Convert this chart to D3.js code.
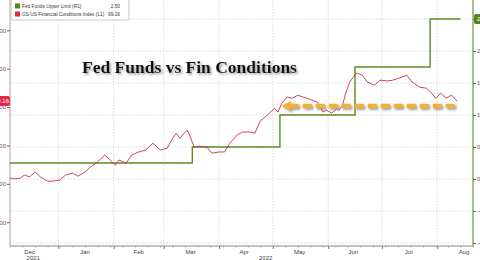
<!DOCTYPE html>
<html>
<head>
<meta charset="utf-8">
<script src="https://cdn.jsdelivr.net/npm/d3@7"></script>
<style>
body { margin: 0; background: #fff; }
svg { display: block; font-family: "Liberation Sans", Arial, sans-serif; }
</style>
</head>
<body>
<div id="chart"></div>
<script>
// GS US Financial Conditions Index (left axis)
var fciDates = ["2021-12-05","2021-12-08","2021-12-11","2021-12-13","2021-12-16","2021-12-19","2021-12-22","2021-12-26","2021-12-29",
  "2022-01-02","2022-01-05","2022-01-09","2022-01-12","2022-01-16","2022-01-19","2022-01-23","2022-01-27","2022-01-30",
  "2022-02-02","2022-02-04","2022-02-08","2022-02-11","2022-02-15","2022-02-19","2022-02-23","2022-02-27",
  "2022-03-03","2022-03-06","2022-03-08","2022-03-10","2022-03-14","2022-03-15","2022-03-18","2022-03-21","2022-03-25","2022-03-28",
  "2022-04-01","2022-04-04","2022-04-07","2022-04-11","2022-04-14","2022-04-18","2022-04-21","2022-04-24","2022-04-26","2022-04-29",
  "2022-05-02","2022-05-04","2022-05-06","2022-05-09","2022-05-12","2022-05-15","2022-05-18","2022-05-20","2022-05-23","2022-05-26","2022-05-29","2022-05-31",
  "2022-06-03","2022-06-06","2022-06-07","2022-06-09","2022-06-11","2022-06-13","2022-06-15","2022-06-17","2022-06-20","2022-06-23","2022-06-27","2022-06-30",
  "2022-07-04","2022-07-07","2022-07-11","2022-07-15","2022-07-18","2022-07-22","2022-07-26","2022-07-29","2022-07-31",
  "2022-08-03","2022-08-06","2022-08-09","2022-08-12"]
var fciValues = [97.15,97.13,97.15,97.23,97.18,97.31,97.18,97.07,97.07,
  97.10,97.23,97.28,97.20,97.31,97.44,97.57,97.75,97.62,
  97.49,97.62,97.54,97.75,97.83,97.88,98.06,97.88,
  97.93,98.19,98.32,98.19,98.40,98.32,97.96,97.98,97.96,97.80,
  97.83,97.83,98.06,98.27,98.35,98.35,98.32,98.64,98.71,98.84,
  98.97,98.87,99.10,99.26,99.23,99.31,99.26,99.23,99.18,99.13,98.87,98.92,
  98.84,98.97,98.92,99.05,99.39,99.65,99.78,99.89,99.83,99.65,99.57,99.70,
  99.68,99.70,99.76,99.83,99.65,99.52,99.49,99.36,99.23,
  99.36,99.23,99.31,99.16]

// Fed Funds upper limit (right axis)
var fedDates = ["2021-12-05","2022-03-17","2022-05-05","2022-06-16","2022-07-28","2022-08-14"]
var fedValues = [0.25, 0.50, 1.00, 1.75, 2.50, 2.50]

// annotation arrow (left axis level)
var arrowDates = ["2022-05-06","2022-08-12"]
var arrowValue = 99.03

var leftTicks = [96, 97, 98, 99, 100, 101]
var rightTicks = [-1, -0.5, 0, 0.5, 1, 1.5, 2, 2.5]
var monthNames = ["Dec","Jan","Feb","Mar","Apr","May","Jun","Jul","Aug"]
var monthMids = ["2021-12-16","2022-01-16","2022-02-15","2022-03-16","2022-04-15","2022-05-16","2022-06-15","2022-07-16","2022-08-16"]
var yearNames = ["2021","2022"]
var yearMids = ["2021-12-18","2022-04-27"]

var parse = d3.timeParse("%Y-%m-%d")
var width = 480, height = 260
var left = 10, right = 473, bottom = 246

var x = d3.scaleTime().domain([parse("2021-12-05"), parse("2022-08-21")]).range([left, right])
var yL = d3.scaleLinear().domain([95.38, 101.79]).range([bottom, 0])
var yR = d3.scaleLinear().domain([-1.047, 2.797]).range([bottom, 0])

var svg = d3.select("#chart").append("svg").attr("width", width).attr("height", height)

var defs = svg.append("defs")
defs.append("filter").attr("id", "shadow").attr("x", "-10%").attr("y", "-30%").attr("width", "130%").attr("height", "170%")
  .append("feDropShadow").attr("dx", 1.5).attr("dy", 1.5).attr("stdDeviation", 1).attr("flood-color", "#777").attr("flood-opacity", 0.8)

// grid
var grid = svg.append("g").attr("stroke", "#ccc").attr("stroke-width", 0.7).attr("stroke-dasharray", "1.5,1.5")
grid.selectAll("line.h").data(rightTicks).enter().append("line")
  .attr("x1", left).attr("x2", right).attr("y1", d => yR(d)).attr("y2", d => yR(d))
grid.selectAll("line.v").data(x.ticks(d3.timeMonth)).enter().append("line")
  .attr("x1", d => x(d)).attr("x2", d => x(d)).attr("y1", 0).attr("y2", bottom)

// axes
var axL = svg.append("g").attr("transform", `translate(${left},0)`)
  .call(d3.axisLeft(yL).tickValues(leftTicks).tickFormat(d3.format(".2f")).tickSize(3).tickPadding(1))
axL.select(".domain").attr("stroke", "#c99").attr("d", `M0,0V${bottom}`)
axL.selectAll(".tick line").attr("stroke", "#666")
axL.selectAll("text").attr("font-size", 6).attr("fill", "#555")

var axR = svg.append("g").attr("transform", `translate(${right},0)`)
  .call(d3.axisRight(yR).tickValues(rightTicks).tickFormat(d3.format(".2f")).tickSize(3).tickPadding(1))
axR.select(".domain").attr("stroke", "#6b9a3a").attr("stroke-width", 1.2).attr("d", `M0,0V${bottom}`)
axR.selectAll(".tick line").attr("stroke", "#666")
axR.selectAll("text").attr("font-size", 6).attr("fill", "#555")

var axB = svg.append("g").attr("transform", `translate(0,${bottom})`)
  .call(d3.axisBottom(x).ticks(d3.timeWeek).tickFormat("").tickSize(1.5))
axB.select(".domain").attr("stroke", "#888").attr("d", `M${left},0H${right}`)
axB.selectAll(".tick line").attr("stroke", "#aaa")
svg.append("g").attr("transform", `translate(0,${bottom})`)
  .call(d3.axisBottom(x).ticks(d3.timeMonth).tickFormat("").tickSize(3))
  .call(g => g.select(".domain").remove())
  .selectAll(".tick line").attr("stroke", "#777")

svg.append("g").attr("font-size", 6).attr("fill", "#444").attr("text-anchor", "middle")
  .selectAll("text").data(monthNames).enter().append("text")
  .attr("x", (d, i) => x(parse(monthMids[i]))).attr("y", bottom + 8).text(d => d)
svg.append("g").attr("font-size", 6).attr("fill", "#444").attr("text-anchor", "middle")
  .selectAll("text").data(yearNames).enter().append("text")
  .attr("x", (d, i) => x(parse(yearMids[i]))).attr("y", bottom + 13.5).text(d => d)

// series
var fed = fedDates.map((d, i) => [parse(d), fedValues[i]])
svg.append("path").datum(fed)
  .attr("fill", "none").attr("stroke", "#5b8c1f").attr("stroke-width", 1.4)
  .attr("d", d3.line().curve(d3.curveStepAfter).x(d => x(d[0])).y(d => yR(d[1])))

var fci = fciDates.map((d, i) => [parse(d), fciValues[i]])
svg.append("path").datum(fci)
  .attr("fill", "none").attr("stroke", "#c9304f").attr("stroke-width", 0.9).attr("stroke-linejoin", "round")
  .attr("d", d3.line().x(d => x(d[0])).y(d => yL(d[1])))

// arrow
var ax0 = x(parse(arrowDates[0])), ax1 = x(parse(arrowDates[1])), ay = yL(arrowValue)
var arrow = svg.append("g").attr("filter", "url(#shadow)")
arrow.append("line").attr("x1", ax0 + 8).attr("x2", ax1).attr("y1", ay).attr("y2", ay)
  .attr("stroke", "#f0b13a").attr("stroke-width", 4.5).attr("stroke-dasharray", "9,4")
arrow.append("path").attr("fill", "#f0b13a")
  .attr("d", `M${ax0},${ay}L${ax0 + 9},${ay - 5}L${ax0 + 9},${ay + 5}Z`)

// title
svg.append("text").attr("x", 82).attr("y", 73).attr("font-family", "Liberation Serif, Times New Roman, serif")
  .attr("font-weight", "bold").attr("font-size", 17.5).attr("fill", "#111").attr("filter", "url(#shadow)")
  .text("Fed Funds vs Fin Conditions")

// last-value labels
var lastF = fciValues[fciValues.length - 1]
svg.append("rect").attr("x", -16).attr("y", yL(lastF) - 5).attr("width", 26).attr("height", 10).attr("rx", 2).attr("fill", "#e0284a")
svg.append("text").attr("x", 9).attr("y", yL(lastF) + 2).attr("text-anchor", "end").attr("font-size", 6).attr("fill", "#fff").text(d3.format(".2f")(lastF))
var lastR = fedValues[fedValues.length - 1]
svg.append("rect").attr("x", right + 1).attr("y", yR(lastR) - 5).attr("width", 20).attr("height", 10).attr("rx", 2).attr("fill", "#4f8a1b")
svg.append("text").attr("x", right + 4).attr("y", yR(lastR) + 2).attr("font-size", 6).attr("fill", "#fff").text(d3.format(".2f")(lastR))

// legend
var legend = svg.append("g")
legend.append("rect").attr("x", 11).attr("y", -1).attr("width", 118).attr("height", 21).attr("fill", "#fff").attr("stroke", "#bbb").attr("stroke-width", 0.8)
var legNames = ["Fed Funds Upper Limit (R1)", "GS US Financial Conditions Index (L1)"]
var legColors = ["#4f8a1b", "#e0284a"]
var legValues = [d3.format(".2f")(lastR), d3.format(".2f")(lastF)]
legNames.forEach((n, i) => {
  var yy = 6 + i * 8
  legend.append("rect").attr("x", 15).attr("y", yy - 2.5).attr("width", 5).attr("height", 5).attr("fill", legColors[i])
  legend.append("text").attr("x", 22).attr("y", yy + 2).attr("font-size", 4.8).attr("fill", "#333").text(n)
  legend.append("text").attr("x", 120).attr("y", yy + 2).attr("font-size", 4.8).attr("fill", "#333").attr("text-anchor", "end").text(legValues[i])
})
</script>
</body>
</html>
